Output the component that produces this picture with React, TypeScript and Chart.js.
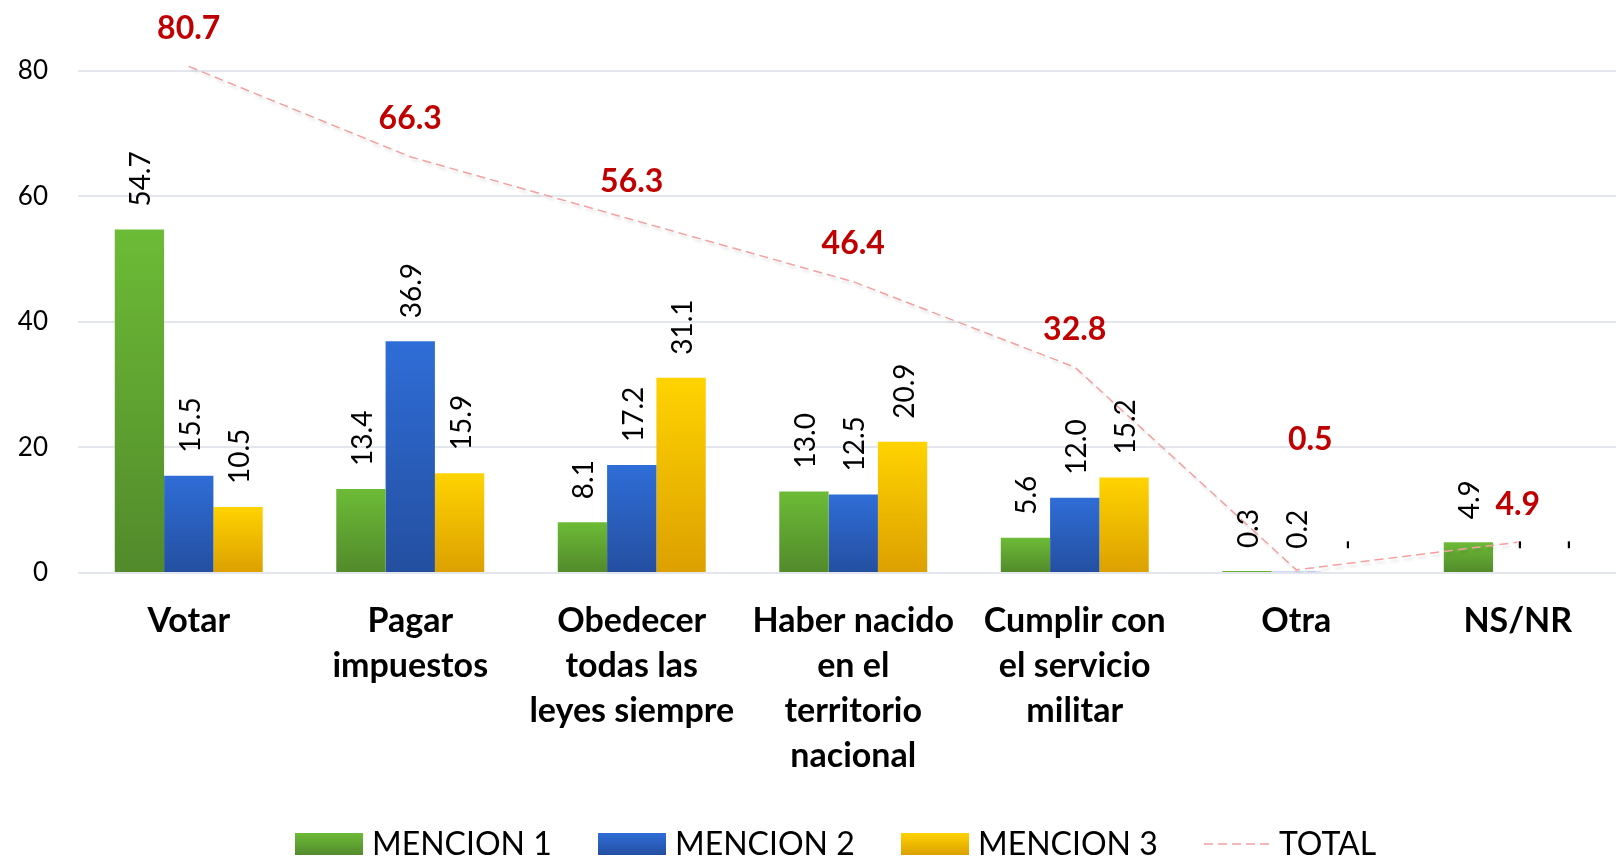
import React, { useEffect, useRef } from "react";
import { Chart, registerables } from "chart.js";

Chart.register(...registerables);

const categories: (string | string[])[] = [
  "Votar",
  ["Pagar", "impuestos"],
  ["Obedecer", "todas las", "leyes siempre"],
  ["Haber nacido", "en el", "territorio", "nacional"],
  ["Cumplir con", "el servicio", "militar"],
  "Otra",
  "NS/NR",
];
const mencion1 = [54.7, 13.4, 8.1, 13.0, 5.6, 0.3, 4.9];
const mencion2 = [15.5, 36.9, 17.2, 12.5, 12.0, 0.2, 0];
const mencion3 = [10.5, 15.9, 31.1, 20.9, 15.2, 0, 0];
const total = [80.7, 66.3, 56.3, 46.4, 32.8, 0.5, 4.9];
const yTickValues = [0, 20, 40, 60, 80];
const seriesNames = ["MENCION 1", "MENCION 2", "MENCION 3", "TOTAL"];

// label nudges (styling only): [dx, dy] for TOTAL labels
const totalLabelShift: [number, number][] = [
  [0, 0], [0, 0], [0, 0], [0, 0], [0, 0], [14, -92], [0, 0],
];

const barGradients: [string, string][] = [
  ["#6CBB36", "#528A2B"],
  ["#2F6DD7", "#244FA0"],
  ["#FFD300", "#DCA000"],
];
const lineColor = "#F2A0A0";
const FONT = "Lato, 'Open Sans', sans-serif";

function gradientFill(idx: number) {
  return (c: any) => {
    const chart = c.chart;
    const { ctx, chartArea, scales } = chart;
    const [top, bot] = barGradients[idx];
    if (!chartArea || c.type !== "data" || !scales.y) return top;
    const v = c.raw as number;
    const yTop = scales.y.getPixelForValue(v);
    const yBot = scales.y.getPixelForValue(0);
    if (yBot - yTop < 1) return top;
    const g = ctx.createLinearGradient(0, yTop, 0, yBot);
    g.addColorStop(0, top);
    g.addColorStop(1, bot);
    return g;
  };
}

const labelPlugin = {
  id: "valueLabels",
  beforeDatasetDraw(chart: any, args: any) {
    if (args.index === 3) {
      const ctx = chart.ctx;
      ctx.save();
      ctx.shadowColor = "rgba(0,0,0,0.13)";
      ctx.shadowBlur = 3;
      ctx.shadowOffsetX = 2;
      ctx.shadowOffsetY = 3;
    }
  },
  afterDatasetDraw(chart: any, args: any) {
    if (args.index === 3) chart.ctx.restore();
  },
  afterDatasetsDraw(chart: any) {
    const ctx = chart.ctx;
    for (let d = 0; d < 3; d++) {
      const meta = chart.getDatasetMeta(d);
      const data = chart.data.datasets[d].data as number[];
      meta.data.forEach((bar: any, j: number) => {
        const v = data[j];
        const txt = v === 0 ? "-" : v.toFixed(1);
        ctx.save();
        ctx.translate(bar.x + 11, bar.y - 23);
        ctx.rotate(-Math.PI / 2);
        ctx.font = `28px ${FONT}`;
        ctx.fillStyle = "#000000";
        ctx.textAlign = "left";
        ctx.textBaseline = "alphabetic";
        ctx.fillText(txt, 0, 0);
        ctx.restore();
      });
    }
    const lmeta = chart.getDatasetMeta(3);
    const tdata = chart.data.datasets[3].data as number[];
    lmeta.data.forEach((pt: any, j: number) => {
      const [dx, dy] = totalLabelShift[j];
      ctx.save();
      ctx.font = `bold 32px ${FONT}`;
      ctx.fillStyle = "#C00000";
      ctx.textAlign = "center";
      ctx.textBaseline = "alphabetic";
      ctx.fillText(tdata[j].toFixed(1), pt.x + dx, pt.y - 27.5 + dy);
      ctx.restore();
    });
  },
  afterDraw(chart: any) {
    const ctx = chart.ctx;
    const x0 = 295;
    const step = 303;
    const boxW = 68;
    const boxTop = 833;
    const boxH = 22;
    const baseline = 855;
    chart.data.datasets.forEach((ds: any, i: number) => {
      const x = x0 + step * i;
      ctx.save();
      if (i < 3) {
        const g = ctx.createLinearGradient(0, boxTop, 0, boxTop + boxH);
        g.addColorStop(0, barGradients[i][0]);
        g.addColorStop(1, barGradients[i][1]);
        ctx.fillStyle = g;
        ctx.fillRect(x, boxTop, boxW, boxH);
      } else {
        ctx.strokeStyle = lineColor;
        ctx.lineWidth = 1.5;
        ctx.setLineDash([9, 5]);
        ctx.beginPath();
        ctx.moveTo(x, boxTop + boxH / 2);
        ctx.lineTo(x + 66, boxTop + boxH / 2);
        ctx.stroke();
      }
      ctx.setLineDash([]);
      ctx.font = `32px ${FONT}`;
      ctx.fillStyle = "#000000";
      ctx.textAlign = "left";
      ctx.textBaseline = "alphabetic";
      ctx.fillText(ds.label, x + (i < 3 ? boxW + 9 : 75), baseline);
      ctx.restore();
    });
  },
};

export default function App() {
  const ref = useRef<HTMLCanvasElement | null>(null);
  useEffect(() => {
    let chart: Chart | null = null;
    let cancelled = false;
    const build = () => {
      if (cancelled || !ref.current) return;
      chart = new Chart(ref.current, {
        type: "bar",
        data: {
          labels: categories as any,
          datasets: [
            { label: seriesNames[0], data: mencion1, backgroundColor: gradientFill(0), order: 1, categoryPercentage: 0.668, barPercentage: 1 } as any,
            { label: seriesNames[1], data: mencion2, backgroundColor: gradientFill(1), order: 1, categoryPercentage: 0.668, barPercentage: 1 } as any,
            { label: seriesNames[2], data: mencion3, backgroundColor: gradientFill(2), order: 1, categoryPercentage: 0.668, barPercentage: 1 } as any,
            {
              type: "line",
              label: seriesNames[3],
              data: total,
              borderColor: lineColor,
              borderWidth: 1.5,
              borderDash: [9, 5],
              pointRadius: 0,
              fill: false,
              tension: 0,
              order: 0,
            } as any,
          ],
        },
        options: {
          animation: false,
          responsive: false,
          maintainAspectRatio: false,
          layout: { padding: { top: 8, right: 1.5, bottom: 0, left: 0 } },
          plugins: {
            legend: { display: false },
            tooltip: { enabled: false },
          },
          scales: {
            x: {
              grid: { display: false, drawTicks: false },
              border: { display: false },
              ticks: {
                autoSkip: false,
                maxRotation: 0,
                minRotation: 0,
                padding: 25.5,
                color: "#000000",
                font: { family: FONT, size: 34, weight: "bold", lineHeight: 45 / 34 },
              },
              afterFit: (s: any) => {
                s.height = 284;
                s.paddingLeft = 0;
                s.paddingRight = 0;
              },
            },
            y: {
              min: 0,
              max: 90,
              grid: { color: "#E3E6EC", lineWidth: 2, drawTicks: false },
              border: { display: false },
              ticks: {
                stepSize: 20,
                padding: 30,
                color: "#000000",
                font: { family: FONT, size: 26 },
              },
              afterBuildTicks: (s: any) => {
                s.ticks = yTickValues.map((v) => ({ value: v }));
              },
              afterFit: (s: any) => {
                s.width = 78;
                s.paddingTop = 0;
                s.paddingBottom = 0;
              },
            },
          },
        } as any,
        plugins: [labelPlugin],
      });
    };
    const fonts = (document as any).fonts;
    if (fonts && fonts.load) {
      Promise.all([
        fonts.load(`bold 34px Lato`),
        fonts.load(`28px Lato`),
      ]).then(build, build);
    } else build();
    return () => {
      cancelled = true;
      if (chart) chart.destroy();
    };
  }, []);
  return (
    <div style={{ position: "fixed", left: 0, top: 0, width: 1616, height: 857, overflow: "hidden", background: "#fff" }}>
      <canvas ref={ref} width={1630} height={857} style={{ width: 1630, height: 857, display: "block" }} />
    </div>
  );
}
